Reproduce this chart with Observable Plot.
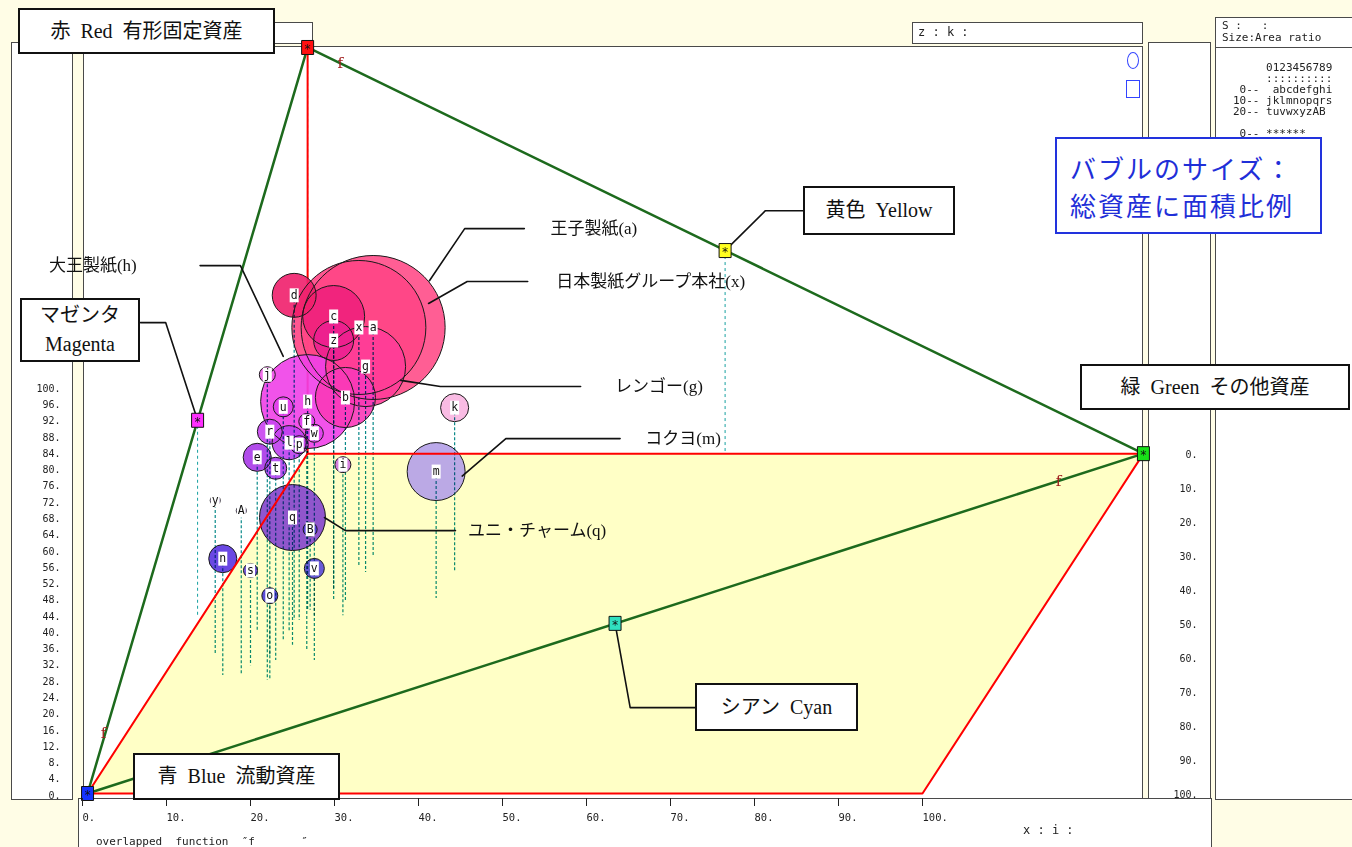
<!DOCTYPE html>
<html><head><meta charset="utf-8">
<script src="https://cdn.jsdelivr.net/npm/d3@7"></script>
<script src="https://cdn.jsdelivr.net/npm/@observablehq/plot@0.6"></script>
<style>
body{margin:0;}
#root{position:relative;width:1352px;height:847px;background:#fffde6;overflow:hidden;}
.panel{position:absolute;background:#fff;border:1px solid #4a4a4a;box-sizing:border-box;}
.box{position:absolute;background:#fff;border:2px solid #111;box-sizing:border-box;display:flex;flex-direction:column;align-items:center;justify-content:center;font-family:'Liberation Serif','Noto Sans CJK JP',serif;font-size:20px;white-space:pre;color:#111;line-height:1.45;}
.mono{position:absolute;font-family:'DejaVu Sans Mono',monospace;font-size:11px;white-space:pre;color:#222;line-height:11px;}
.layer{position:absolute;left:0;top:0;}
</style></head>
<body>
<div id="root">
  <div class="panel" style="left:20px;top:22px;width:293px;height:22px;"></div>
  <div class="panel" style="left:912px;top:22px;width:231px;height:22px;"></div>
  <div class="mono" style="left:918px;top:27px;font-size:12px;">z : k :</div>
  <div class="panel" style="left:11px;top:42px;width:62px;height:758px;"></div>
  <div class="panel" style="left:83px;top:46px;width:1060px;height:753px;"></div>
  <div class="panel" style="left:1148px;top:42px;width:63px;height:757px;"></div>
  <div class="panel" style="left:78px;top:798px;width:1134px;height:60px;"></div>
  <div class="panel" style="left:1215px;top:17px;width:140px;height:31px;"></div>
  <div class="panel" style="left:1215px;top:47px;width:140px;height:753px;"></div>
  <div class="mono" style="left:1222px;top:20px;font-size:11px;line-height:12px;">S :   :
Size:Area ratio</div>
  <div class="mono" style="left:1233px;top:62px;font-size:11px;line-height:11px;">     0123456789
     ::::::::::
 0--  abcdefghi
10-- jklmnopqrs
20-- tuvwxyzAB

 0-- ******</div>
  <div id="plot" class="layer"></div>
  <div id="raxis" class="layer" style="left:1140px;"></div>
  <div style="position:absolute;left:1127px;top:52px;width:10px;height:15px;border:1.5px solid #3344ff;border-radius:50%;"></div>
  <div style="position:absolute;left:1126px;top:80px;width:12px;height:16px;border:1.5px solid #3344ff;"></div>
  <div class="mono" style="left:96px;top:836px;">overlapped  function  ″f       ″</div>
  <div class="mono" style="left:1023px;top:825px;font-size:12px;">x : i :</div>
  <div class="box" style="left:18px;top:8px;width:257px;height:46px;">赤  Red  有形固定資産</div>
  <div class="box" style="left:803px;top:186px;width:152px;height:49px;">黄色  Yellow</div>
  <div class="box" style="left:1080px;top:364px;width:270px;height:46px;">緑  Green  その他資産</div>
  <div class="box" style="left:20px;top:298px;width:120px;height:64px;"><span>マゼンタ</span><span>Magenta</span></div>
  <div class="box" style="left:695px;top:683px;width:163px;height:48px;">シアン  Cyan</div>
  <div class="box" style="left:133px;top:753px;width:207px;height:47px;">青  Blue  流動資産</div>
  <div class="box" style="left:1055px;top:137px;width:267px;height:97px;border-color:#2233dd;color:#1f2fd8;font-family:'Noto Sans CJK JP',sans-serif;font-size:26px;letter-spacing:2px;align-items:flex-start;padding-left:13px;line-height:37px;"><span>バブルのサイズ：</span><span>総資産に面積比例</span></div>
</div>
<script>
// ---- data ----
const leftTicks = [0,4,8,12,16,20,24,28,32,36,40,44,48,52,56,60,64,68,72,76,80,84,88,92,96,100];
const bottomTicks = [0,10,20,30,40,50,60,70,80,90,100];
const rightTicks = [0,10,20,30,40,50,60,70,80,90,100];

const labels = ["a","x","c","z","d","g","b","h","j","u","f","w","r","l","p","e","t","i","q","B","y","A","n","s","v","o","k","m"];
const posX   = [34.6,32.9,29.9,29.9,25.2,33.7,31.3,26.8,22.0,23.9,26.7,27.6,22.3,24.6,25.8,20.8,23.0,31.0,25.0,27.1,15.8,18.9,16.7,20.0,27.6,22.3,44.3,42.1];
const posY   = [114.5,114.5,117.2,111.3,122.4,104.9,97.3,96.3,102.9,95.0,91.4,88.5,88.9,86.2,85.7,82.6,79.9,80.8,67.8,64.9,72.0,69.5,57.7,54.8,55.3,48.6,94.8,79.1];
const assets = [100,86.6,18.5,7.7,9.3,30.9,17.4,42.6,1.23,1.93,1.23,1.56,3.0,5.6,1.56,3.8,2.33,1.23,21.0,0.95,0.48,0.48,3.8,0.95,1.93,1.23,3.8,16.2];
const dropY  = [58.5,56.0,47.4,49.9,42.5,54.3,47.4,45.0,27.8,37.6,35.1,43.7,33.9,40.0,42.5,40.0,32.7,43.7,36.4,45.0,33.9,29.0,29.0,31.4,32.7,27.8,54.3,47.9];
const palette = ["#ff4d88","#ff4585","#f0207c","#ec2090","#f01f6c","#ff3c98","#fa38b8","#f040e8","#f060e8","#e040ec","#e040f0","#e040f0","#c844f0","#c040f0","#c848f0","#a838e8","#b040f0","#d070e0","#8444cc","#4c3cd8","#8040e0","#8040e0","#5a34e0","#6848d8","#5848d8","#4838d8","#f8b4e0","#b4a0e8"];

const vertexNames = ["Blue","Red","Green","Magenta","Yellow","Cyan"];
const vertexX = [0.6,26.8,126.3,13.7,76.5,63.4];
const vertexY = [0,183.3,83.5,91.7,133.4,41.8];
const vertexDrop = [null,122,null,43.7,83.5,null];
const markerFill = ["#1533ff","#ff1010","#18e018","#ff30ff","#ffff20","#30e0c0"];
const triangleOrder = ["Blue","Red","Green","Blue"];

const paraX = [0.6,100,126.3,26.8];
const paraY = [0,0,83.5,83.5];

const leaderYellow  = [[85.8,143.2],[81.3,143.2],[76.5,133.4]];
const leaderMagenta = [[6.9,115.7],[9.9,115.7],[13.7,91.7]];
const leaderCyan    = [[63.4,41.8],[65.2,21.1],[73.0,21.1]];
const leaderA = [[52.6,138.8],[45.5,138.8],[41.3,126.0]];
const leaderX = [[53.0,125.8],[45.8,125.8],[41.2,120.4]];
const leaderH = [[14.0,129.7],[18.8,129.7],[23.9,107.4]];
const leaderG = [[59.3,100.0],[42.6,100.0],[37.9,101.5]];
const leaderM = [[64.0,87.2],[50.4,87.2],[45.2,78.0]];
const leaderQ = [[44.4,64.6],[31.3,64.6],[28.8,67.8]];

const companyNames = ["王子製紙(a)","日本製紙グループ本社(x)","大王製紙(h)","レンゴー(g)","コクヨ(m)","ユニ・チャーム(q)"];
const companyX = [55.7,56.4,-4.0,63.4,67.0,45.9];
const companyY = [138.8,125.8,129.7,100.0,87.2,64.6];

const fX = [30.7,116.2,2.5];
const fY = [179.4,76.7,14.7];

// ---- build tables ----
const mono = "'DejaVu Sans Mono', monospace";
const serif = "'Liberation Serif', 'Noto Sans CJK JP', serif";
const bubbles = labels.map((id,i)=>({id, x:posX[i], y:posY[i], size:assets[i], drop:dropY[i]}));
const vertices = vertexNames.map((n,i)=>({name:n, x:vertexX[i], y:vertexY[i], drop:vertexDrop[i], fill:markerFill[i]}));
const vByName = Object.fromEntries(vertices.map(v=>[v.name,v]));
const triangle = triangleOrder.map(n=>vByName[n]);
const yellowRows = [{y:paraY[0], x1:paraX[0], x2:paraX[1]},{y:paraY[2], x1:paraX[3], x2:paraX[2]}];
const paraOutline = [0,1,2,3,0].map(i=>({x:paraX[i], y:paraY[i]}));
const redVertical = [vByName.Red, {x:paraX[3], y:paraY[3]}];
const leaderSets = {leaderYellow,leaderMagenta,leaderCyan,leaderA,leaderX,leaderH,leaderG,leaderM,leaderQ};
const leaderRows = Object.entries(leaderSets).flatMap(([k,pts])=>pts.map(([x,y])=>({id:k,x,y})));
const companies = companyNames.map((t,i)=>({t, x:companyX[i], y:companyY[i]}));
const fLabels = fX.map((x,i)=>({x, y:fY[i]}));

const boxSym = {draw(ctx){ ctx.rect(-6,-7,12,14); }};
const labelSym = {draw(ctx){ ctx.rect(-4.5,-7,9,14); }};

const marks = [
  Plot.areaX(yellowRows, {y:"y", x1:"x1", x2:"x2", fill:"#ffffc6"}),
  Plot.line(triangle, {x:"x", y:"y", stroke:"#1d6a1d", strokeWidth:2.5}),
  Plot.ruleX(vertices.filter(v=>v.drop!=null), {x:"x", y1:"y", y2:"drop", stroke:"#16a0a0", strokeDasharray:"3,3"}),
  Plot.line(redVertical, {x:"x", y:"y", stroke:"#ff0000", strokeWidth:2}),
  Plot.dot(bubbles, {x:"x", y:"y", r:"size", fill:"id", fillOpacity:0.9, stroke:"none"}),
  Plot.ruleX(bubbles, {x:"x", y1:"y", y2:"drop", stroke:"#0a8a8a", strokeDasharray:"3,2", strokeWidth:1.2, mixBlendMode:"multiply"}),
  Plot.dot(bubbles, {x:"x", y:"y", r:"size", fill:"none", stroke:"#1a1a1a", strokeWidth:1}),
  Plot.line(paraOutline, {x:"x", y:"y", stroke:"#ff0000", strokeWidth:2}),
  Plot.dot(bubbles, {x:"x", y:"y", symbol:labelSym, fill:"white", stroke:"none"}),
  Plot.text(bubbles, {x:"x", y:"y", text:"id", fontFamily:mono, fontSize:11.5, fill:"#111"}),
  Plot.line(leaderRows, {x:"x", y:"y", z:"id", stroke:"#111", strokeWidth:1.6}),
  ...vertices.map(v=>Plot.dot([v], {x:"x", y:"y", symbol:boxSym, fill:v.fill, stroke:"#111", strokeWidth:1})),
  Plot.text(vertices, {x:"x", y:"y", text:()=>"*", fontFamily:mono, fontSize:12, dy:2, fill:"#111"}),
  Plot.text(companies, {x:"x", y:"y", text:"t", textAnchor:"start", fontFamily:serif, fontSize:17, fill:"#111"}),
  Plot.text(fLabels, {x:"x", y:"y", text:()=>"f", fontFamily:"'DejaVu Serif', serif", fontSize:15, fill:"#a01c1c"}),
  Plot.axisY({ticks:leftTicks, tickSize:0, tickPadding:22, tickFormat:d=>`${d}.`, fontFamily:mono, fontSize:10, label:null, dy:2}),
  Plot.axisX({ticks:bottomTicks, tickSize:8, tickPadding:7, tickFormat:d=>`${d}.`, textAnchor:"start", fontFamily:mono, fontSize:10.5, label:null})
];

const chart = Plot.plot({
  width:1352, height:847,
  marginLeft:82, marginRight:430, marginTop:386, marginBottom:49,
  x:{domain:[0,100], range:[82,922]},
  y:{domain:[0,100], range:[793,386]},
  r:{type:"sqrt", domain:[0,100], range:[0,72]},
  color:{type:"ordinal", domain:labels, range:palette},
  style:{background:"transparent", overflow:"visible", color:"#222"},
  marks
});
document.getElementById("plot").append(chart);

const raxis = Plot.plot({
  width:70, height:847, margin:0,
  y:{domain:[0,100], range:[453,793], axis:null},
  style:{background:"transparent", overflow:"visible", color:"#222"},
  marks:[Plot.text(rightTicks, {y:d=>d, frameAnchor:"right", text:d=>`${d}.`, textAnchor:"end", dx:-13, dy:1, fontFamily:mono, fontSize:10, fill:"#222"})]
});
document.getElementById("raxis").append(raxis);
</script>
</body></html>
